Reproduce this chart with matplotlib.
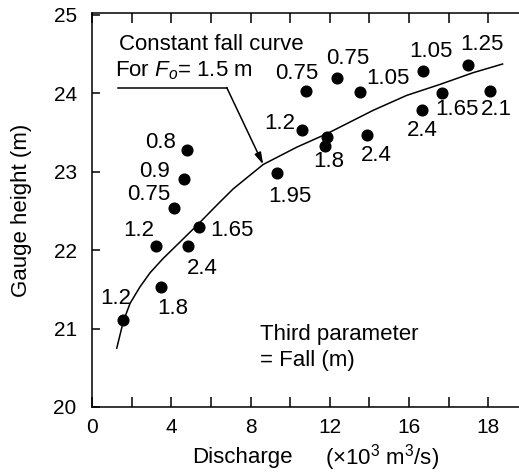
import numpy as np
import matplotlib
matplotlib.use("Agg")
from matplotlib import pyplot as plt

plt.rcParams['font.family'] = ['Liberation Sans', 'DejaVu Sans']
plt.rcParams['mathtext.fontset'] = 'custom'
plt.rcParams['mathtext.rm'] = 'Liberation Sans'
plt.rcParams['mathtext.it'] = 'Liberation Sans:italic'

# discharge (x10^3 m3/s), gauge height (m), fall (m)
discharge = [1.55, 3.48, 3.23, 4.83, 5.40, 4.15, 4.64, 4.81, 9.35, 10.80,
             10.60, 11.84, 11.76, 12.35, 13.52, 13.86, 16.72, 16.65, 17.64, 19.0, 20.08]
gauge = [21.11, 21.53, 22.05, 22.05, 22.29, 22.53, 22.90, 23.27, 22.98, 24.02,
         23.53, 23.44, 23.33, 24.19, 24.01, 23.47, 24.28, 23.78, 24.00, 24.36, 24.02]
fall = ["1.2", "1.8", "1.2", "2.4", "1.65", "0.75", "0.9", "0.8", "1.95", "0.75",
        "1.2", "", "1.8", "0.75", "1.05", "2.4", "1.05", "2.4", "1.65", "1.25", "2.1"]

# constant fall curve, F_o = 1.5 m
curve_q = [1.25, 1.58, 1.92, 2.42, 2.93, 3.58, 4.27, 5.28, 6.37, 7.13, 8.64,
           10.33, 11.84, 14.19, 15.88, 17.56, 19.24, 20.72]
curve_h = [20.75, 21.09, 21.32, 21.53, 21.71, 21.89, 22.06, 22.31, 22.59, 22.78, 23.09,
           23.31, 23.48, 23.78, 23.97, 24.11, 24.26, 24.37]

xticks = [0, 4, 8, 12, 16, 20]
xtick_labels = ["0", "4", "8", "12", "16", "18"]
yticks = [20, 21, 22, 23, 24, 25]

# label offsets in pixels (layout only)
offsets = [(-7, 21), (12, -22), (-17, 16), (15, -22), (33, -3), (-25, 14), (-29, 8),
           (-27, 8), (13, -23), (-9, 18), (-22, 6), (0, 0), (4, -16), (11, 20),
           (28, 14), (10, -21), (8, 20), (0, -20), (15, -16), (13, 20), (7, -18)]

fig = plt.figure(figsize=(5.19, 4.72), dpi=100)
ax = fig.add_axes([92 / 519, 1 - 407 / 472, 1 - 92 / 519, (407 - 13) / 472])

ax.plot(curve_q, curve_h, color='black', lw=1.1)
ax.plot(discharge, gauge, 'o', color='black', ms=7.7)

for q, h, f, off in zip(discharge, gauge, fall, offsets):
    if f:
        ax.annotate(f, (q, h), xytext=off, textcoords='offset pixels',
                    ha='center', va='center', fontsize=16)

ax.text(1.36, 24.62, "Constant fall curve", fontsize=16, va='center', ha='left')
ax.text(1.16, 24.29, "For $F_o$= 1.5 m", fontsize=16, va='center', ha='left')
ax.plot([1.31, 6.80], [24.07, 24.07], color='black', lw=1.1)
ax.annotate("", xy=(8.64, 23.09), xytext=(6.80, 24.07),
            arrowprops=dict(arrowstyle='-|>,head_length=0.7,head_width=0.2',
                            color='black', lw=1.1, shrinkA=0, shrinkB=0))

ax.text(8.48, 20.92, "Third parameter", fontsize=16, va='center', ha='left')
ax.text(8.48, 20.59, "= Fall (m)", fontsize=16, va='center', ha='left')

ax.set_xlim(0, 21.55)
ax.set_ylim(20, 25.02)
ax.set_xticks(xticks)
ax.set_xticklabels(xtick_labels)
ax.set_xticks(np.arange(2, 21, 2), minor=True)
ax.set_yticks(yticks)

ax.tick_params(axis='x', which='both', direction='in', top=True, length=7, width=1.1,
               labelsize=15, pad=8)
ax.tick_params(axis='y', direction='in', length=6, width=1.1, labelsize=15, pad=11)
ax.spines['right'].set_visible(False)
for s in ['left', 'top', 'bottom']:
    ax.spines[s].set_linewidth(1.1)

ax.set_ylabel("Gauge height (m)", fontsize=16)
ax.yaxis.set_label_coords((32 - 92) / 427, 0.5)
ax.text((192 - 92) / 427, -51 / 394, "Discharge", transform=ax.transAxes,
        fontsize=16, ha='left', va='center')
ax.text((325 - 92) / 427, -51 / 394, "(\u00d710$^3$ m$^3$/s)", transform=ax.transAxes,
        fontsize=16, ha='left', va='center')

fig.savefig("out.png", dpi=100)
